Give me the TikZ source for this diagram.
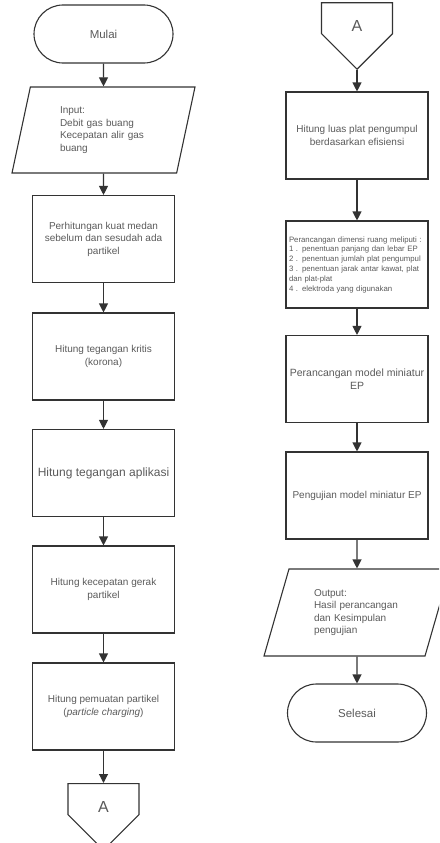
\documentclass[tikz,border=0pt]{standalone}
\usepackage{fontspec}
\setmainfont{Liberation Sans}
\usetikzlibrary{shapes.geometric,shapes.symbols,shapes.misc,arrows.meta}
\definecolor{linegray}{HTML}{333333}
\definecolor{textgray}{HTML}{5A5A5A}
\tikzset{
  base/.style={draw=linegray, line width=1.1pt, text=textgray, inner sep=2pt,
    font=\fontsize{10}{12.5}\selectfont},
  proses/.style={base, rectangle, minimum width=142pt, minimum height=87pt, align=center},
  terminal/.style={base, rounded rectangle, minimum width=143pt, minimum height=58pt,
    font=\fontsize{11.5}{13}\selectfont},
  data/.style={base, trapezium, trapezium stretches body, minimum height=86pt, align=left},
  konektor/.style={base, signal, signal to=south, signal pointer angle=90,
    minimum width=71pt, minimum height=38pt, text height=27pt, text depth=0pt,
    font=\fontsize{16}{18}\selectfont},
  panah/.style={draw=linegray, line width=1.1pt, -{Triangle[length=9pt,width=9pt]}}
}
\begin{document}
\begin{tikzpicture}[x=1pt,y=-1pt]
  \useasboundingbox (0,0) rectangle (439,843);
  \clip (0,0) rectangle (439,843);
  % kolom kiri
  \node[terminal] (mulai) at (103.5,34) {Mulai};
  \node[data, trapezium left angle=70, trapezium right angle=110, minimum width=183pt,
    text width=87pt] (input) at (103.5,130) {Input:\\Debit gas buang\\Kecepatan alir gas\\buang};
  \node[proses] (medan) at (103.5,239) {Perhitungan kuat medan\\sebelum dan sesudah ada\\partikel};
  \node[proses] (kritis) at (103.5,356.5) {Hitung tegangan kritis\\(korona)};
  \node[proses, font=\fontsize{12}{14}\selectfont] (aplikasi) at (103.5,473) {Hitung tegangan aplikasi};
  \node[proses] (kecepatan) at (103.5,589.5) {Hitung kecepatan gerak\\partikel};
  \node[proses] (muatan) at (103.5,706.5) {Hitung pemuatan partikel\\(\textit{particle charging})};
  \node[konektor, anchor=north] (keA) at (103.5,783) {A};
  % kolom kanan
  \node[konektor, anchor=south] (dariA) at (357,70) {A};
  \node[proses] (luas) at (357,135.5) {Hitung luas plat pengumpul\\berdasarkan efisiensi};
  \node[proses, align=left, text width=136pt, font=\fontsize{7.8}{9.8}\selectfont] (dimensi) at (357,264.5)
    {Perancangan dimensi ruang meliputi :\\1 . penentuan panjang dan lebar EP\\2 . penentuan jumlah plat pengumpul\\3 . penentuan jarak antar kawat, plat\\dan plat-plat\\4 . elektroda yang digunakan};
  \node[proses, font=\fontsize{10.5}{13}\selectfont] (model) at (357,379) {Perancangan model miniatur\\EP};
  \node[proses] (uji) at (357,495.5) {Pengujian model miniatur EP};
  \node[data, trapezium left angle=63.7, trapezium right angle=116.3, minimum width=186pt,
    minimum height=87pt, text width=86pt] (output) at (357,612.5) {Output:\\Hasil perancangan\\dan Kesimpulan\\pengujian};
  \node[terminal] (selesai) at (357,713) {Selesai};
  % panah
  \draw[panah] (mulai.south) -- (input.north);
  \draw[panah] (input.south) -- (medan.north);
  \draw[panah] (medan.south) -- (kritis.north);
  \draw[panah] (kritis.south) -- (aplikasi.north);
  \draw[panah] (aplikasi.south) -- (kecepatan.north);
  \draw[panah] (kecepatan.south) -- (muatan.north);
  \draw[panah] (muatan.south) -- (keA.north);
  \draw[panah] (dariA.south) -- (luas.north);
  \draw[panah] (luas.south) -- (dimensi.north);
  \draw[panah] (dimensi.south) -- (model.north);
  \draw[panah] (model.south) -- (uji.north);
  \draw[panah] (uji.south) -- (output.north);
  \draw[panah] (output.south) -- (selesai.north);
\end{tikzpicture}
\end{document}
